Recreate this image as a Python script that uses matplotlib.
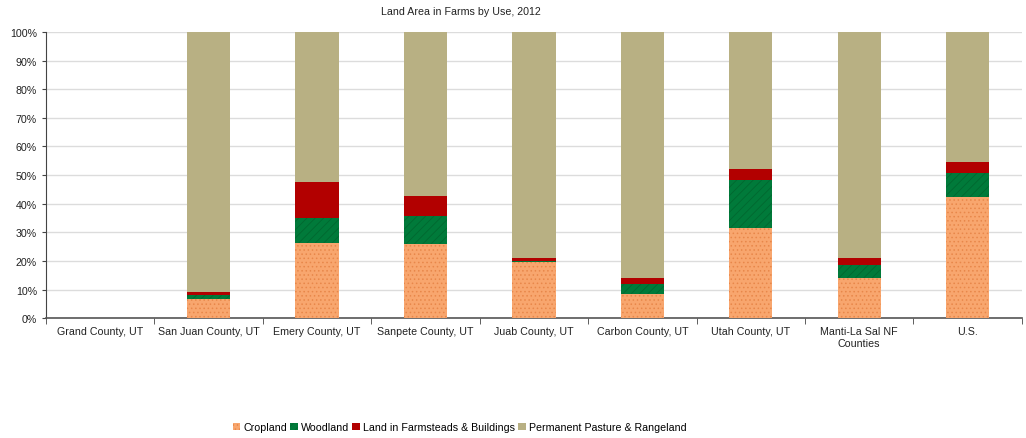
import matplotlib.pyplot as plt
import numpy as np
from matplotlib.ticker import PercentFormatter, FixedLocator

plt.rcParams['font.family'] = ['Liberation Sans', 'DejaVu Sans']
plt.rcParams['hatch.linewidth'] = 0.6

counties = ['Grand County, UT', 'San Juan County, UT', 'Emery County, UT', 'Sanpete County, UT',
            'Juab County, UT', 'Carbon County, UT', 'Utah County, UT', 'Manti-La Sal NF\nCounties', 'U.S.']
cropland = [0, 6.6, 26.2, 25.9, 19.7, 8.4, 31.5, 14.0, 42.4]
woodland = [0, 1.5, 8.8, 9.8, 0.4, 3.5, 16.8, 4.7, 8.3]
farmsteads = [0, 0.9, 12.6, 7.0, 0.9, 2.1, 3.8, 2.3, 3.8]
pasture = [0, 91.0, 52.4, 57.3, 79.0, 86.0, 47.9, 79.0, 45.5]

series = [
    ('Cropland', cropland, '#F8A66E', '#E8874A', '....'),
    ('Woodland', woodland, '#007A3A', '#006830', '////'),
    ('Land in Farmsteads & Buildings', farmsteads, '#B20000', None, None),
    ('Permanent Pasture & Rangeland', pasture, '#B8B083', None, None),
]

fs = 7.7

fig = plt.figure(figsize=(10.26, 4.39), dpi=100)
ax = fig.add_axes([0.0448, 0.273, 0.9512, 0.652])

x = np.arange(len(counties))
bottom = np.zeros(len(counties))
for name, vals, color, hcolor, hatch in series:
    vals = np.array(vals)
    bars = ax.bar(x, vals, width=0.4, bottom=bottom, color=color, label=name,
                  linewidth=0, hatch=hatch, zorder=3)
    if hatch:
        for b in bars:
            b.set_edgecolor(hcolor)
    bottom += vals

ax.set_ylim(0, 100)
ax.set_xlim(-0.5, len(counties) - 0.5)
ax.yaxis.set_major_locator(FixedLocator(np.arange(0, 101, 10)))
ax.yaxis.set_major_formatter(PercentFormatter(decimals=0))
ax.grid(axis='y', color='#DCDCDC', linewidth=1, zorder=0)

ax.set_xticks(x)
ax.set_xticklabels(counties, fontsize=fs, color='#222222')
ax.tick_params(axis='x', which='major', length=0, pad=6)
ax.set_xticks(np.arange(-0.5, len(counties), 1), minor=True)
ax.tick_params(axis='x', which='minor', length=4, color='#444444')
ax.tick_params(axis='y', labelsize=fs, length=3, color='#444444', labelcolor='#222222')

for side in ['top', 'right']:
    ax.spines[side].set_visible(False)
ax.spines['left'].set_color('#444444')
ax.spines['bottom'].set_color('#555555')
ax.spines['bottom'].set_linewidth(1.2)

fig.suptitle('Land Area in Farms by Use, 2012', x=0.449, y=0.984, fontsize=fs, color='#222222')

handles, labels = ax.get_legend_handles_labels()
fig.legend(handles, labels, loc='center', bbox_to_anchor=(0.448, 0.025), ncol=4, frameon=False,
           fontsize=fs, handlelength=0.7, handleheight=0.7, handletextpad=0.3, columnspacing=0.3)

fig.savefig('out.png', dpi=100)
